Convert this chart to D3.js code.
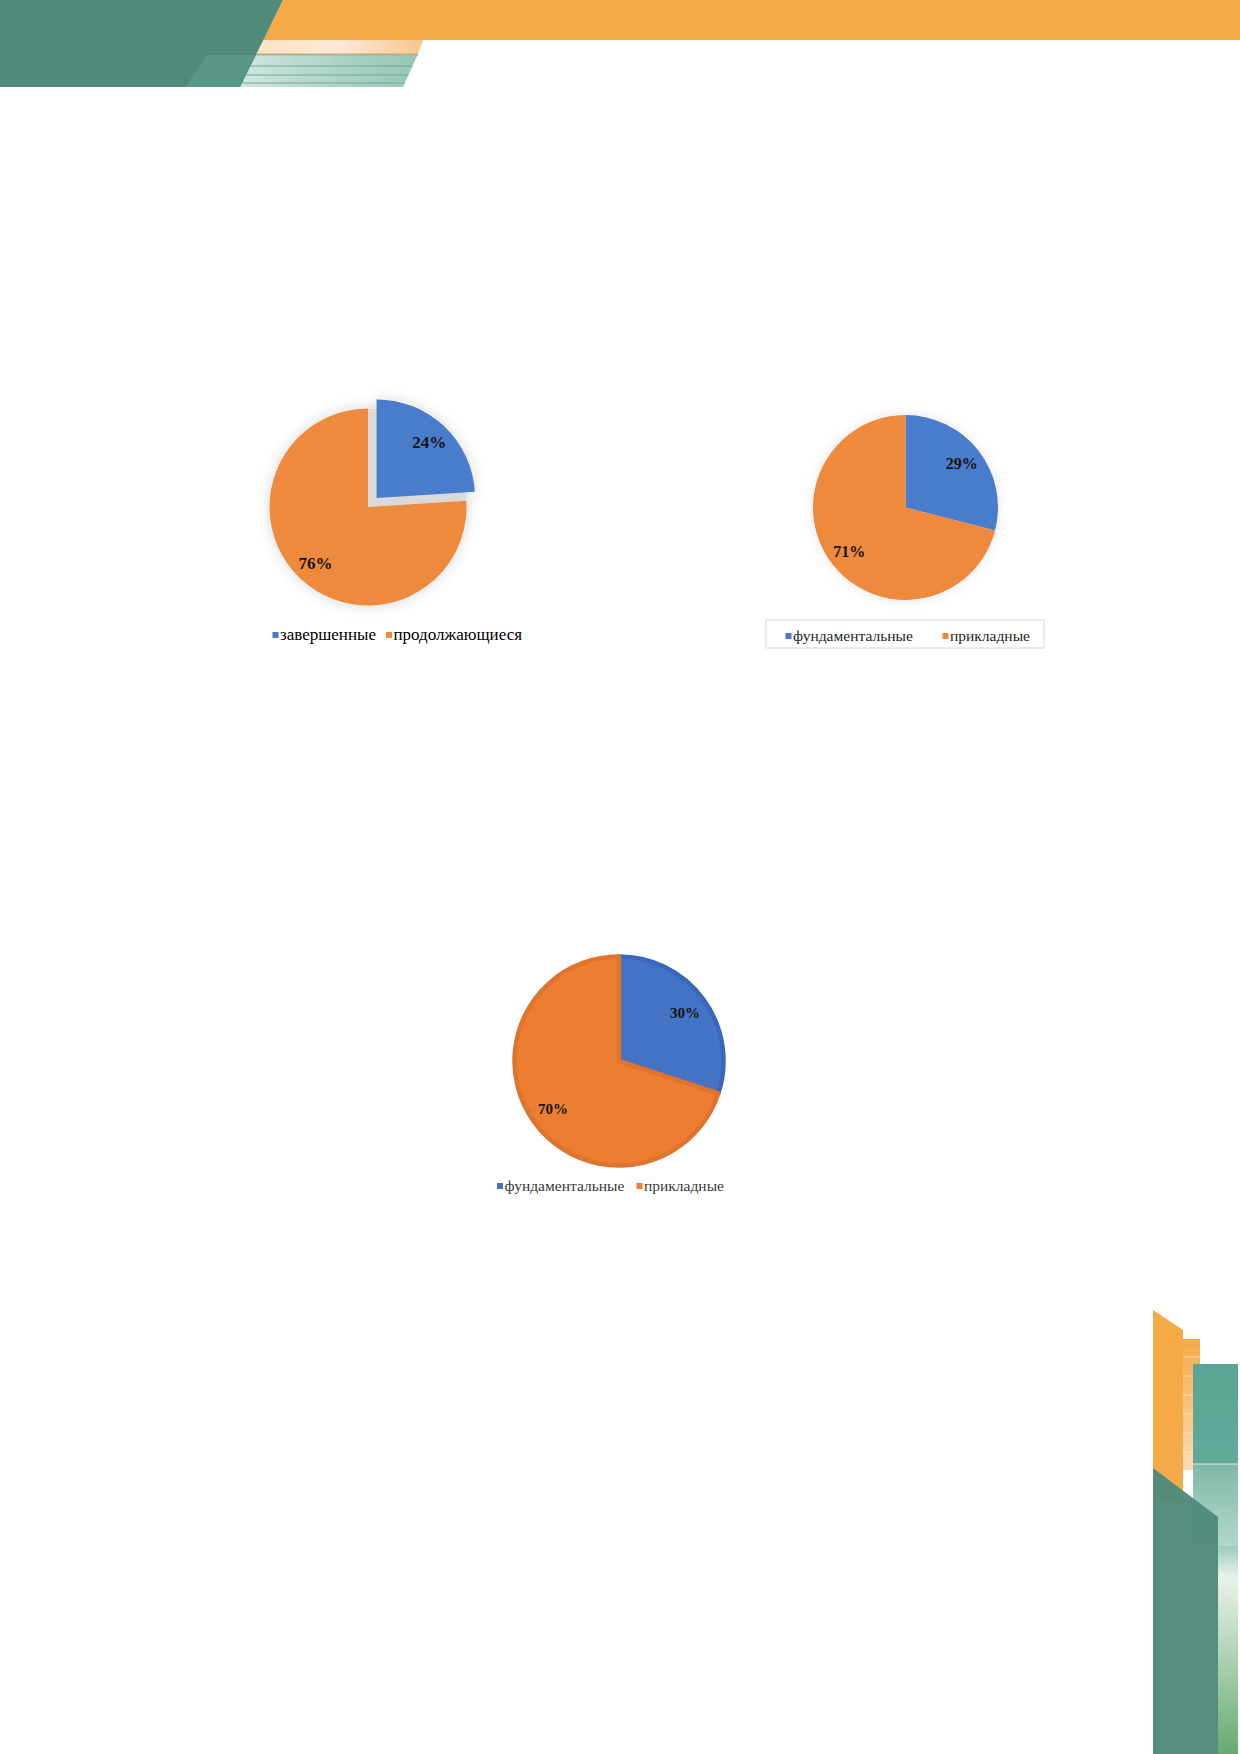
<!DOCTYPE html>
<html>
<head>
<meta charset="utf-8">
<script src="https://cdn.jsdelivr.net/npm/d3@7"></script>
<style>
  body { margin: 0; background: #fff; }
  svg { display: block; }
</style>
</head>
<body>
<div id="page"></div>
<script>
// data
const chart1Labels = ["завершенные", "продолжающиеся"];
const chart1Values = [24, 76];

const chart2Labels = ["фундаментальные", "прикладные"];
const chart2Values = [29, 71];

const chart3Labels = ["фундаментальные", "прикладные"];
const chart3Values = [30, 70];

const blue = "#4a7bca";
const orange = "#ee8a3c";

const svg = d3.select("#page").append("svg")
  .attr("width", 1240)
  .attr("height", 1754);

const defs = svg.append("defs");

function addShadow(id, dev, op) {
  defs.append("filter")
    .attr("id", id)
    .attr("x", "-30%").attr("y", "-30%")
    .attr("width", "160%").attr("height", "160%")
    .append("feDropShadow")
    .attr("dx", 0).attr("dy", 0)
    .attr("stdDeviation", dev)
    .attr("flood-color", "#000")
    .attr("flood-opacity", op);
}
addShadow("glow1", 7, 0.16);
addShadow("glow2", 6, 0.10);

function addGradient(id, stops, x2, y2) {
  const g = defs.append("linearGradient")
    .attr("id", id)
    .attr("x1", 0).attr("y1", 0)
    .attr("x2", x2).attr("y2", y2);
  stops.forEach(s => g.append("stop").attr("offset", s[0]).attr("stop-color", s[1]));
}

// page decoration: header
addGradient("peach", [[0, "#fbe2c4"], [0.5, "#fde9d4"], [1, "#f7c68b"]], 1, 0);
addGradient("teal", [[0, "#cfe6df"], [0.6, "#a9d1c6"], [1, "#97c6b8"]], 1, 0);

const head = svg.append("g");
head.append("polygon").attr("points", "283,0 1240,0 1240,40 263,40").attr("fill", "#f5aa48");
head.append("polygon").attr("points", "263,40 423,40 418,54 256,54").attr("fill", "url(#peach)");
head.append("polygon").attr("points", "256,54 418,54 403,87 240,87").attr("fill", "url(#teal)");
head.append("line").attr("x1", 256).attr("x2", 418).attr("y1", 54.5).attr("y2", 54.5)
  .attr("stroke", "#b7ad8a").attr("stroke-width", 2);
[66, 75, 83].forEach(y => {
  head.append("line").attr("x1", 240 + (87 - y) * 0.49).attr("x2", 403 + (87 - y) * 0.45)
    .attr("y1", y).attr("y2", y).attr("stroke", "#74a798").attr("stroke-width", 1);
});
head.append("polygon").attr("points", "0,0 283,0 240,87 0,87").attr("fill", "#4f8a7b");
head.append("polygon").attr("points", "207,55 256,55 240,87 185,87").attr("fill", "#5d9a8a").attr("opacity", 0.8);

// page decoration: bottom right
addGradient("strip", [[0, "#f5aa48"], [1, "#fbdcb5"]], 0, 1);
addGradient("tealCol", [[0, "#5aa593"], [1, "#62a998"]], 0, 1);
addGradient("tealLow", [[0, "#7fb9a8"], [1, "#b3d6cb"]], 0, 1);
addGradient("edge", [[0, "#9ccbbd"], [0.15, "#e9f2ea"], [1, "#67aa70"]], 0, 1);

const foot = svg.append("g");
foot.append("polygon").attr("points", "1153,1310 1183,1330 1183,1500 1153,1500").attr("fill", "#f5aa48");
foot.append("rect").attr("x", 1183).attr("y", 1339).attr("width", 17).attr("height", 131).attr("fill", "url(#strip)");
[1357, 1376, 1395, 1414, 1433, 1452].forEach(y => {
  foot.append("line").attr("x1", 1183).attr("x2", 1200).attr("y1", y).attr("y2", y)
    .attr("stroke", "#fff").attr("stroke-opacity", 0.6).attr("stroke-width", 0.8);
});
foot.append("rect").attr("x", 1193).attr("y", 1364).attr("width", 45).attr("height", 100).attr("fill", "url(#tealCol)");
foot.append("rect").attr("x", 1193).attr("y", 1464).attr("width", 45).attr("height", 82).attr("fill", "url(#tealLow)");
foot.append("line").attr("x1", 1193).attr("x2", 1238).attr("y1", 1464).attr("y2", 1464)
  .attr("stroke", "#d6ebe4").attr("stroke-width", 1);
foot.append("rect").attr("x", 1218).attr("y", 1546).attr("width", 20).attr("height", 208).attr("fill", "url(#edge)");
foot.append("polygon").attr("points", "1153,1468 1218,1517 1218,1754 1153,1754").attr("fill", "#4f8a7b").attr("opacity", 0.97);

// pie charts
function drawPie(cfg) {
  const g = svg.append("g").attr("transform", `translate(${cfg.cx},${cfg.cy})`);
  const pie = d3.pie().sort(null).value(d => d.value);
  const arcs = pie(cfg.labels.map((l, i) => ({ label: l, value: cfg.values[i] })));
  const color = d3.scaleOrdinal().domain(cfg.labels).range(cfg.colors);
  const arc = d3.arc().innerRadius(0).outerRadius(cfg.r);
  const labelArc = d3.arc().innerRadius(cfg.r * cfg.labelRatio).outerRadius(cfg.r * cfg.labelRatio);

  const offset = (d, i) => {
    if (cfg.explode == null || cfg.explode !== i) return [0, 0];
    const a = (d.startAngle + d.endAngle) / 2;
    return [Math.sin(a) * cfg.explodeDist, -Math.cos(a) * cfg.explodeDist];
  };

  const body = g.append("g");
  if (cfg.shadow) body.attr("filter", `url(#${cfg.shadow})`);

  if (cfg.explode != null) {
    body.append("path")
      .attr("d", arc(arcs[cfg.explode]))
      .attr("fill", "#d9d9d9");
  }

  body.selectAll("path.slice")
    .data(arcs)
    .join("path")
    .attr("class", "slice")
    .attr("transform", (d, i) => `translate(${offset(d, i)})`)
    .attr("d", arc)
    .attr("fill", d => color(d.data.label))
    .attr("stroke", (d, i) => cfg.strokes ? cfg.strokes[i] : "none")
    .attr("stroke-width", cfg.strokeWidth || 0)
    .attr("stroke-linejoin", "round");

  g.selectAll("text.val")
    .data(arcs)
    .join("text")
    .attr("class", "val")
    .attr("transform", (d, i) => {
      const c = labelArc.centroid(d);
      const o = offset(d, i);
      return `translate(${c[0] + o[0]},${c[1] + o[1]})`;
    })
    .attr("text-anchor", "middle")
    .attr("dy", "0.35em")
    .attr("font-family", "'Liberation Serif', 'Times New Roman', serif")
    .attr("font-weight", "bold")
    .attr("font-size", cfg.valueSize)
    .attr("fill", "#141414")
    .text(d => d.data.value + "%");

  const lg = svg.append("g");
  if (cfg.legendBox) {
    const b = cfg.legendBox;
    lg.append("rect").attr("x", b[0]).attr("y", b[1]).attr("width", b[2]).attr("height", b[3])
      .attr("fill", "#fff").attr("stroke", "#d9d9d9").attr("stroke-width", 1);
  }
  cfg.labels.forEach((l, i) => {
    const x = cfg.legendX[i];
    lg.append("rect")
      .attr("x", x).attr("y", cfg.legendY - 7.5)
      .attr("width", 6).attr("height", 6)
      .attr("fill", color(l));
    lg.append("text")
      .attr("x", x + 7.5).attr("y", cfg.legendY)
      .attr("font-family", "'Liberation Serif', 'Times New Roman', serif")
      .attr("font-size", cfg.legendSize)
      .attr("fill", cfg.legendColor)
      .text(l);
  });
}

drawPie({
  labels: chart1Labels, values: chart1Values,
  cx: 368, cy: 507, r: 98.5,
  colors: [blue, orange],
  explode: 0, explodeDist: 12.5,
  shadow: "glow1",
  labelRatio: 0.78, valueSize: 17,
  legendX: [272.5, 386], legendY: 639.5, legendSize: 17, legendColor: "#000"
});

drawPie({
  labels: chart2Labels, values: chart2Values,
  cx: 905.5, cy: 507.5, r: 92.5,
  colors: [blue, orange],
  shadow: "glow2",
  labelRatio: 0.77, valueSize: 16,
  legendBox: [766, 620, 278, 28],
  legendX: [785.5, 942.5], legendY: 640.5, legendSize: 15.5, legendColor: "#262626"
});

drawPie({
  labels: chart3Labels, values: chart3Values,
  cx: 619, cy: 1061, r: 104.5,
  colors: ["#4472c4", "#ed7d31"],
  strokes: ["#3b67bb", "#de742f"],
  strokeWidth: 4.5,
  labelRatio: 0.78, valueSize: 15,
  legendX: [497, 636.5], legendY: 1190.5, legendSize: 15.5, legendColor: "#3a3a3a"
});
</script>
</body>
</html>
